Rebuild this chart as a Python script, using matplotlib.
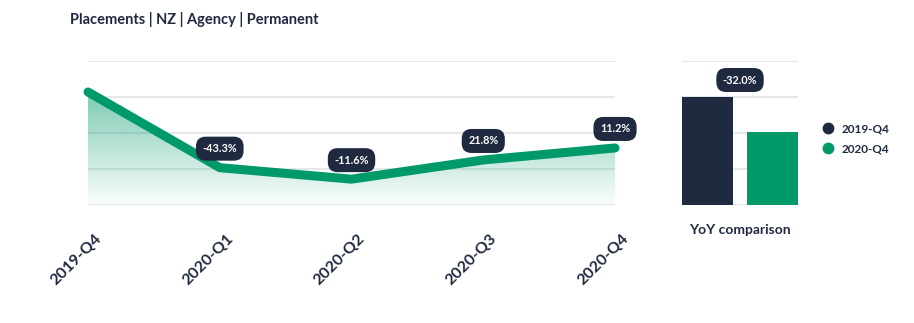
"""
Placements | NZ | Agency | Permanent
Quarterly trend with q/q change labels, plus YoY bar comparison.
"""
import matplotlib
matplotlib.use("Agg")
import matplotlib.pyplot as plt
import numpy as np
from matplotlib.colors import LinearSegmentedColormap
from matplotlib.lines import Line2D
from matplotlib.transforms import ScaledTranslation

plt.rcParams["font.family"] = ["Lato", "DejaVu Sans"]

QUARTERS   = ["2019-Q4", "2020-Q1", "2020-Q2", "2020-Q3", "2020-Q4"]
PLACEMENTS = [100.0, 56.74, 50.18, 61.14, 68.01]   # indexed, 2019-Q4 = 100
YOY_LABELS = ["2019-Q4", "2020-Q4"]
YOY_VALUES = [PLACEMENTS[0], PLACEMENTS[-1]]

NAVY  = "#1f2940"
GREEN = "#009a6a"
GRID  = "#e2e3ea"

def pct(a, b):
    return f"{(b / a - 1) * 100:.1f}%"

fig = plt.figure(figsize=(9.14, 3.23), dpi=100)
fig.patch.set_facecolor("white")
fig.text(0.0766, 0.941, "Placements | NZ | Agency | Permanent",
         fontsize=10.5, fontweight="bold", color=NAVY, va="center", ha="left")

bbox = dict(boxstyle="round,pad=0.6,rounding_size=0.9", fc=NAVY, ec="none")

# --- trend line ---------------------------------------------------------
ax = fig.add_axes([0.0963, 0.3653, 0.5766, 0.4458])
x = np.arange(len(QUARTERS))
y = np.array(PLACEMENTS)
ylo, yhi = 35.4, 117.7
ax.set_xlim(0, len(QUARTERS) - 1)
ax.set_ylim(ylo, yhi)
ax.set_yticks(np.linspace(ylo, yhi, 5))
ax.grid(axis="y", color=GRID, lw=1.2)
ax.set_axisbelow(True)
for s in ax.spines.values():
    s.set_visible(False)
ax.tick_params(left=False, bottom=False, labelleft=False)

# gradient area under the line, clipped to the fill polygon
poly = ax.fill_between(x, y, ylo, color="none", lw=0)
cmap = LinearSegmentedColormap.from_list(
    "fade", [(0, (0, 0.6, 0.42, 0.02)), (1, (0, 0.6, 0.42, 0.52))])
grad = np.linspace(0, 1, 256).reshape(-1, 1)
im = ax.imshow(grad, cmap=cmap, aspect="auto", origin="lower",
               extent=[0, len(QUARTERS) - 1, ylo, max(PLACEMENTS)], zorder=1)
im.set_clip_path(poly.get_paths()[0], transform=ax.transData)

ax.plot(x, y, color=GREEN, lw=6.5, solid_capstyle="round",
        solid_joinstyle="round", zorder=3, clip_on=False)

for i in range(1, len(PLACEMENTS)):
    ax.annotate(pct(PLACEMENTS[i - 1], PLACEMENTS[i]), (x[i], y[i]),
                xytext=(0, 19), textcoords="offset pixels",
                ha="center", va="center", fontsize=7.8, fontweight="bold",
                color="white", bbox=bbox, zorder=5, annotation_clip=False)

ax.set_xticks(x)
ax.set_xticklabels(QUARTERS, rotation=45, ha="right", va="center",
                   rotation_mode="anchor", fontsize=11.5, fontweight="bold",
                   color=NAVY)
ax.tick_params(axis="x", pad=19)
shift = ScaledTranslation(8 / 72, 0, fig.dpi_scale_trans)
for lbl in ax.get_xticklabels():
    lbl.set_transform(lbl.get_transform() + shift)

# --- YoY bars -----------------------------------------------------------
axb = fig.add_axes([0.7462, 0.3653, 0.1269, 0.4458])
w = 0.784
bx = np.arange(len(YOY_VALUES))
axb.bar(bx, YOY_VALUES, width=w, color=[NAVY, GREEN], zorder=2)
axb.set_xlim(-w / 2, 1 + w / 2)
bhi = YOY_VALUES[0] * 144 / 108
axb.set_ylim(0, bhi)
axb.set_yticks(np.linspace(0, bhi, 5))
axb.grid(axis="y", color=GRID, lw=1.2)
axb.set_axisbelow(True)
for s in axb.spines.values():
    s.set_visible(False)
axb.tick_params(left=False, bottom=False, labelleft=False, labelbottom=False)
axb.set_xlabel("YoY comparison", fontsize=10, fontweight="bold",
               color=NAVY, labelpad=14)
axb.annotate(pct(YOY_VALUES[0], YOY_VALUES[1]), (0.5, YOY_VALUES[0]),
             xytext=(0, 17), textcoords="offset pixels", ha="center",
             va="center", fontsize=7.8, fontweight="bold", color="white",
             bbox=bbox, annotation_clip=False)

handles = [Line2D([], [], ls="none", marker="o", ms=7.5, mfc=c, mec=c)
           for c in (NAVY, GREEN)]
fig.legend(handles, YOY_LABELS, loc="center left",
           bbox_to_anchor=(0.888, 0.57), frameon=False, handletextpad=0.6,
           labelspacing=0.75, handlelength=1.0,
           prop=dict(size=8.5, weight="bold"), labelcolor=NAVY)

fig.savefig("out.png", dpi=100)
